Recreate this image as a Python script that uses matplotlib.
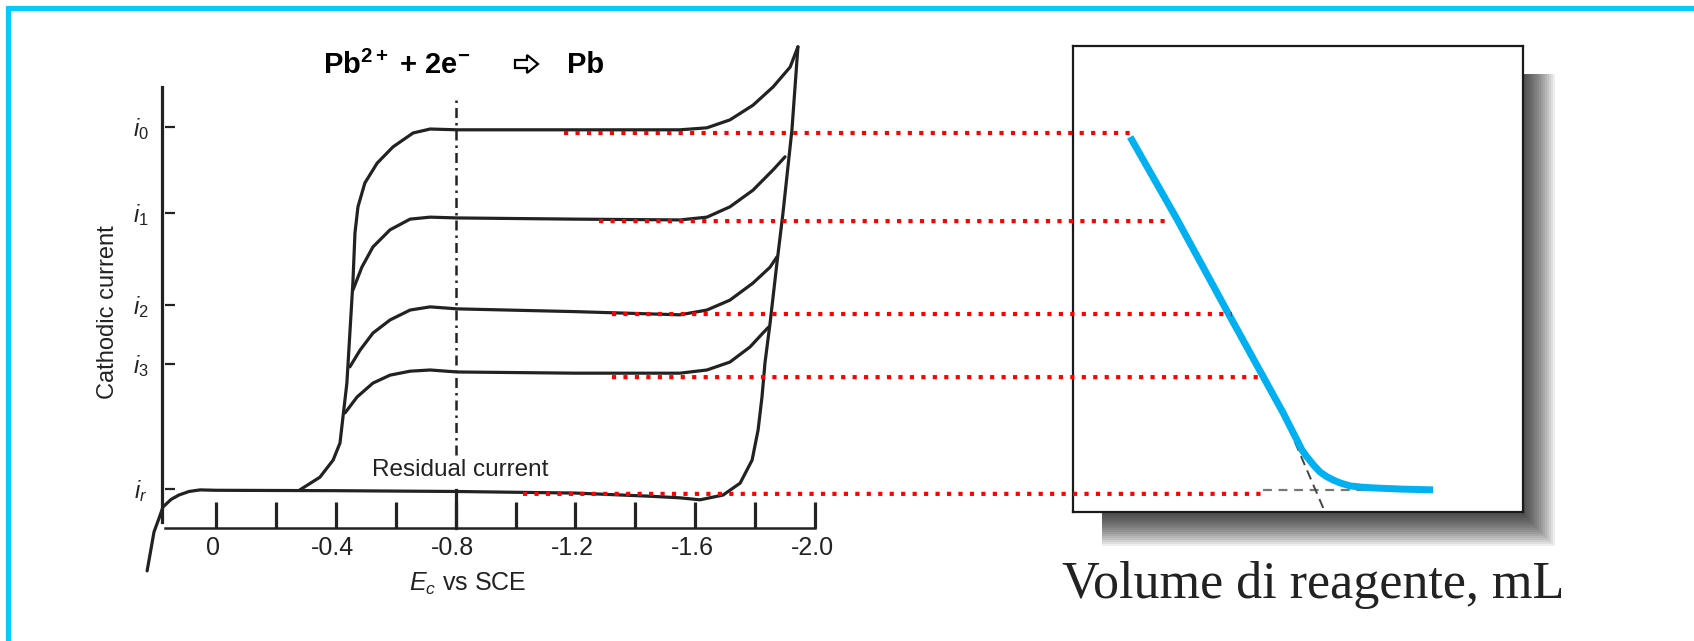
import matplotlib
matplotlib.use("Agg")
import matplotlib.pyplot as plt
from matplotlib.patches import Rectangle, ConnectionPatch, Polygon

plt.rcParams['font.family'] = ['Liberation Sans', 'DejaVu Sans']
plt.rcParams['mathtext.fontset'] = 'custom'
plt.rcParams['mathtext.rm'] = 'Liberation Sans'
plt.rcParams['mathtext.it'] = 'Liberation Sans:italic'
plt.rcParams['mathtext.bf'] = 'Liberation Sans:bold'

# ---- polarogram data (E in V vs SCE, cathodic current in arbitrary units) ----
E_resid = [0.230, 0.207, 0.190, 0.177, 0.150, 0.124, 0.090, 0.053, 0.0, -0.4, -0.8, -1.2,
           -1.45, -1.549, -1.616, -1.693, -1.750, -1.790, -1.810, -1.823, -1.833, -1.850,
           -1.873, -1.893, -1.923, -1.943]
i_resid = [-1.08, -0.10, 0.25, 0.53, 0.72, 0.83, 0.92, 0.96, 0.95, 0.94, 0.92, 0.88,
           0.80, 0.76, 0.71, 0.83, 1.13, 1.71, 2.47, 3.30, 4.16, 5.16,
           6.68, 7.93, 10.03, 12.12]

E_0 = [-0.280, -0.347, -0.391, -0.414, -0.424, -0.437, -0.447, -0.457, -0.464, -0.474,
       -0.497, -0.538, -0.591, -0.658, -0.715, -0.805, -1.2, -1.549, -1.639, -1.716,
       -1.793, -1.860, -1.917, -1.943]
i_0 = [0.96, 1.28, 1.71, 2.14, 2.80, 3.65, 4.91, 6.17, 7.43, 8.09,
       8.69, 9.19, 9.60, 9.95, 10.05, 10.03, 10.03, 10.03, 10.08, 10.28,
       10.65, 11.11, 11.61, 12.12]

E_1 = [-0.457, -0.487, -0.524, -0.581, -0.648, -0.715, -0.805, -1.2, -1.549, -1.639,
       -1.716, -1.793, -1.860, -1.900]
i_1 = [5.99, 6.57, 7.08, 7.51, 7.78, 7.83, 7.81, 7.78, 7.76, 7.83,
       8.09, 8.51, 9.02, 9.35]

E_2 = [-0.447, -0.481, -0.524, -0.581, -0.648, -0.715, -0.805, -1.2, -1.549, -1.639,
       -1.716, -1.793, -1.850, -1.873]
i_2 = [4.06, 4.48, 4.91, 5.24, 5.49, 5.57, 5.52, 5.45, 5.37, 5.49,
       5.74, 6.17, 6.57, 6.83]

E_3 = [-0.431, -0.471, -0.524, -0.581, -0.648, -0.715, -0.805, -1.2, -1.549, -1.639,
       -1.716, -1.783, -1.826, -1.845]
i_3 = [2.90, 3.30, 3.65, 3.85, 3.95, 3.98, 3.93, 3.90, 3.90, 3.98,
       4.18, 4.56, 4.91, 5.06]

x_ticks = [0.0, -0.2, -0.4, -0.6, -0.8, -1.0, -1.2, -1.4, -1.6, -1.8, -2.0]
x_labels = {0.0: '0', -0.4: '-0.4', -0.8: '-0.8', -1.2: '-1.2', -1.6: '-1.6', -2.0: '-2.0'}
y_tick_vals = [10.10, 7.93, 5.62, 4.13, 0.98]
y_tick_labels = [r'$i_0$', r'$i_1$', r'$i_2$', r'$i_3$', r'$i_r$']

# ---- amperometric titration data (volume in mL, current) ----
vol = [1.27, 2.30, 3.42, 4.67, 5.09, 5.20, 5.35, 5.49, 5.63, 5.78, 5.95, 6.16, 6.40, 6.67,
       7.30, 8.00]
cur = [9.85, 7.80, 5.47, 2.90, 1.96, 1.79, 1.58, 1.41, 1.30, 1.21, 1.13, 1.06, 1.03, 1.01,
       0.98, 0.96]

# levels linking both plots: start potential, current level, end volume
link_E = [-1.162, -1.279, -1.322, -1.322, -1.025]
link_i = [9.95, 7.73, 5.39, 3.80, 0.86]
link_V = [1.33, 2.11, 3.53, 4.13, 4.24]

W, H = 1694, 641
fig = plt.figure(figsize=(W / 100, H / 100), dpi=100)

# pixel layout helpers (same current-to-row mapping for both panels)
PX_I, ROW0 = 39.7, 528
PX_E, COL0 = 299.5, 216


def fx(px):
    return px / W


def fy(row):
    return 1 - row / H


def row2i(row):
    return (ROW0 - row) / PX_I


def col2E(col):
    return -(col - COL0) / PX_E


# cyan frame
fig.patches.append(Rectangle((fx(6), fy(11)), 1 - fx(6), fy(6) - fy(11),
                             transform=fig.transFigure, color='#00ccff', lw=0))
fig.patches.append(Rectangle((fx(6), 0), fx(11) - fx(6), fy(6),
                             transform=fig.transFigure, color='#00ccff', lw=0))

# left: polarogram
l, r, t, b = 60, 860, 20, 630
ax1 = fig.add_axes([fx(l), fy(b), fx(r) - fx(l), fy(t) - fy(b)])
ax1.set_xlim(col2E(l), col2E(r))
ax1.set_ylim(row2i(b), row2i(t))
ax1.axis('off')

ink = '#222222'
for E, i in [(E_resid, i_resid), (E_0, i_0), (E_1, i_1), (E_2, i_2), (E_3, i_3)]:
    ax1.plot(E, i, color=ink, lw=2.3, solid_joinstyle='round', solid_capstyle='round')

# hand-drawn axes
ax1.plot([0.18, 0.18], [0.15, 11.1], color=ink, lw=2.3)
ax1.plot([0.17, -2.0], [0.0, 0.0], color=ink, lw=1.8)
ax1.vlines(x_ticks, 0.0, 0.65, color=ink, lw=2.3)
ax1.hlines(y_tick_vals, 0.17, 0.137, color=ink, lw=1.6)
for v, lab in zip(y_tick_vals, y_tick_labels):
    ax1.text(0.25, v - 0.05, lab, fontsize=17, ha='center', va='center', color=ink)
for v, lab in x_labels.items():
    ax1.text(v + 0.01, -0.50, lab, fontsize=18, ha='center', va='center', color=ink)
ax1.text(-0.84, -1.42, r'$E_c$ vs SCE', fontsize=18, ha='center', va='center', color=ink)
ax1.text(0.36, 5.44, 'Cathodic current', fontsize=17, rotation=90,
         ha='center', va='center', color=ink)
ax1.text(-0.815, 1.46, 'Residual current', fontsize=17.5, ha='center', va='center', color=ink)
ax1.plot([-0.8, -0.8], [1.85, 10.88], color=ink, lw=1.8, linestyle=(0, (4, 2, 1, 2)))
ax1.plot([-0.8, -0.8], [0.0, 0.95], color=ink, lw=2.3)

# reaction title: Pb2+ + 2e-  =>  Pb
fig.text(fx(323), fy(65), r'$\mathbf{Pb^{2+}}$ + $\mathbf{2e^{-}}$', fontsize=21,
         fontweight='bold', ha='left', va='center', color='black')
fig.text(fx(567), fy(65), 'Pb', fontsize=21, fontweight='bold', ha='left', va='center',
         color='black')
arrow_px = [(515, 60), (527, 60), (527, 55), (538, 64), (527, 73), (527, 68), (515, 68)]
fig.patches.append(Polygon([(fx(c), fy(rw)) for c, rw in arrow_px], closed=True,
                           transform=fig.transFigure, facecolor='white', edgecolor='black',
                           lw=1.6, joinstyle='miter'))

# right: titration curve box with drop shadow
bl, br, bt, bb = 1073, 1523, 46, 512
for k in range(16):
    sx1 = 1555 - 2 * k
    sy1 = 546 - 2 * k
    fig.patches.append(Rectangle((fx(1102), fy(sy1)), fx(sx1) - fx(1102), fy(74) - fy(sy1),
                                 transform=fig.transFigure, color='black', alpha=0.065,
                                 lw=0, zorder=-1))

ax2 = fig.add_axes([fx(bl), fy(bb), fx(br) - fx(bl), fy(bt) - fy(bb)])
ax2.set_xlim(0, 10)
ax2.set_ylim(row2i(bb), row2i(bt))
ax2.set_xticks([])
ax2.set_yticks([])
for s in ax2.spines.values():
    s.set_color('#1a1a1a')
    s.set_linewidth(1.6)

# extrapolation guides
ax2.plot([4.22, 6.53], [0.96, 0.96], color='#777777', lw=1.6, linestyle=(0, (4, 3)))
ax2.plot([4.93, 5.60], [2.17, 0.40], color='#444444', lw=1.4, linestyle=(0, (5, 3)))
ax2.plot(vol, cur, color='#00b0f0', lw=5, solid_capstyle='butt', solid_joinstyle='round')

fig.text(fx(1313), fy(585), 'Volume di reagente, mL', family='Liberation Serif',
         fontsize=37.5, ha='center', va='center', color='#222222')

# red dotted links
for E, i, V in zip(link_E, link_i, link_V):
    con = ConnectionPatch(xyA=(E, i), coordsA=ax1.transData, xyB=(V, i), coordsB=ax2.transData,
                          color='#ff0000', lw=3, linestyle=(0, (1, 1.75)), capstyle='butt',
                          arrowstyle='-', shrinkA=0, shrinkB=0)
    fig.add_artist(con)

fig.savefig('out.png', dpi=100)
plt.close(fig)
